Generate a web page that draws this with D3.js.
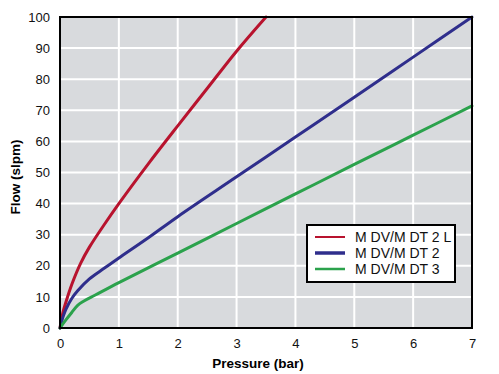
<!DOCTYPE html>
<html>
<head>
<meta charset="utf-8">
<script src="https://cdn.jsdelivr.net/npm/d3@7"></script>
<style>
  body { margin: 0; background: #fff; }
  text { font-family: "Liberation Sans", Arial, sans-serif; }
</style>
</head>
<body>
<svg id="chart" width="499" height="374"></svg>
<script>
// values (pressure bar -> flow slpm)
var pressure2L = [0, 0.05, 0.1, 0.2, 0.35, 0.5, 0.75, 1, 1.5, 2, 2.5, 3, 3.5]
var flow2L     = [0, 5, 8.3, 14, 20.8, 26, 33.2, 40, 52.8, 65, 77, 89, 100]

var pressure2 = [0, 0.05, 0.1, 0.2, 0.3, 0.5, 0.75, 1, 1.5, 2, 3, 4, 5, 6, 7]
var flow2     = [0, 3.5, 6, 9.5, 12, 15.8, 19.2, 22.5, 29, 35.8, 48.6, 61.4, 74.2, 87.1, 100]

var pressure3 = [0, 0.1, 0.2, 0.3, 0.4, 0.6, 1, 2, 3, 4, 5, 6, 7]
var flow3     = [0, 2.6, 5, 7.3, 8.6, 10.6, 14.6, 24.1, 33.6, 43.1, 52.6, 62, 71.4]

var seriesNames = ['M DV/M DT 2 L', 'M DV/M DT 2', 'M DV/M DT 3']
var xTicks = [0, 1, 2, 3, 4, 5, 6, 7]
var yTicks = [0, 10, 20, 30, 40, 50, 60, 70, 80, 90, 100]

var colors = ['#b8132e', '#2f2e8c', '#2ba24c']
var legendWidths = [2, 3.5, 2.5]

var series = [
  d3.zip(pressure2L, flow2L),
  d3.zip(pressure2, flow2),
  d3.zip(pressure3, flow3)
]

var svg = d3.select('#chart')
var margin = {left: 60, top: 17, right: 27, bottom: 46}
var width = 499 - margin.left - margin.right
var height = 374 - margin.top - margin.bottom

var g = svg.append('g').attr('transform', 'translate(' + margin.left + ',' + margin.top + ')')

var x = d3.scaleLinear().domain([0, 7]).range([0, width])
var y = d3.scaleLinear().domain([0, 100]).range([height, 0])

g.append('rect').attr('width', width).attr('height', height).attr('fill', '#d8dadd')

// grid
g.selectAll('line.gx').data(xTicks.slice(1, -1)).join('line')
  .attr('x1', x).attr('x2', x).attr('y1', 0).attr('y2', height)
  .attr('stroke', '#fff').attr('stroke-width', 2)
g.selectAll('line.gy').data(yTicks.slice(1, -1)).join('line')
  .attr('y1', y).attr('y2', y).attr('x1', 0).attr('x2', width)
  .attr('stroke', '#fff').attr('stroke-width', 2)

// axes, labels only
var xAxis = g.append('g').attr('transform', 'translate(0,' + height + ')')
  .call(d3.axisBottom(x).tickValues(xTicks).tickFormat(d3.format('d')).tickSize(0).tickPadding(11))
var yAxis = g.append('g')
  .call(d3.axisLeft(y).tickValues(yTicks).tickFormat(d3.format('d')).tickSize(0).tickPadding(10))
;[xAxis, yAxis].forEach(function(a){
  a.select('.domain').remove()
  a.selectAll('text').attr('font-size', 13).attr('fill', '#111')
    .attr('font-family', '"Liberation Sans", Arial, sans-serif')
})

var line = d3.line()
  .x(function(d){ return x(d[0]) })
  .y(function(d){ return y(d[1]) })
  .curve(d3.curveCatmullRom.alpha(0.5))

g.selectAll('path.series').data(series).join('path')
  .attr('d', line)
  .attr('fill', 'none')
  .attr('stroke', function(d, i){ return colors[i] })
  .attr('stroke-width', 3)
  .attr('stroke-linecap', 'round')

// frame
g.append('rect').attr('width', width).attr('height', height)
  .attr('fill', 'none').attr('stroke', '#000').attr('stroke-width', 2)

// axis titles
svg.append('text').attr('x', 258).attr('y', 368)
  .attr('text-anchor', 'middle').attr('font-size', 13.5).attr('font-weight', 'bold')
  .text('Pressure (bar)')
svg.append('text').attr('transform', 'translate(20,177) rotate(-90)')
  .attr('text-anchor', 'middle').attr('font-size', 13.5).attr('font-weight', 'bold')
  .text('Flow (slpm)')

// legend
var leg = svg.append('g').attr('transform', 'translate(307,225)')
leg.append('rect').attr('width', 148).attr('height', 57)
  .attr('fill', '#fff').attr('stroke', '#000').attr('stroke-width', 2)
var item = leg.selectAll('g.item').data(seriesNames).join('g')
  .attr('transform', function(d, i){ return 'translate(0,' + (12 + i * 16) + ')' })
item.append('line').attr('x1', 8).attr('x2', 38)
  .attr('stroke', function(d, i){ return colors[i] })
  .attr('stroke-width', function(d, i){ return legendWidths[i] })
item.append('text').attr('x', 48).attr('dy', '0.35em')
  .attr('font-size', 14).attr('fill', '#111')
  .text(function(d){ return d })
</script>
</body>
</html>
